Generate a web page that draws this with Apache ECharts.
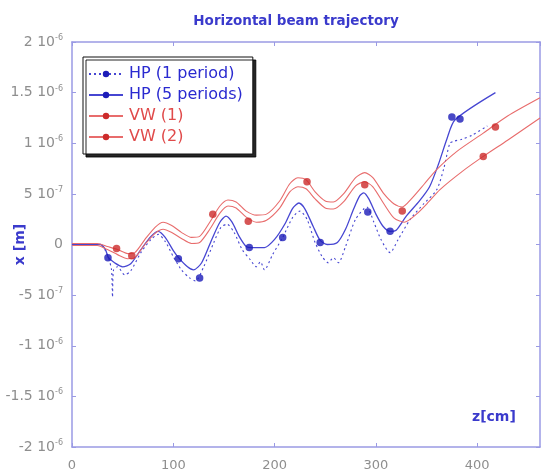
<!DOCTYPE html>
<html>
<head>
<meta charset="utf-8">
<script src="https://cdn.jsdelivr.net/npm/echarts@6/dist/echarts.min.js"></script>
<style>
  html, body { margin: 0; padding: 0; background: #fff; }
  #chart { width: 542px; height: 476px; }
</style>
</head>
<body>
<div id="chart"></div>
<script>
// Horizontal position x (in units of 1e-6 m) versus longitudinal position z (cm)

// HP, 1 period (dotted)
const zHP1 = [0, 28, 33, 36, 39, 40, 41, 45, 52, 58, 68, 78, 85, 92, 100, 108, 116, 122, 130, 140, 147, 153, 160, 168, 176, 182, 186, 190, 198, 208, 218, 225, 232, 240, 247, 253, 258, 263, 270, 280, 291, 298, 305, 314, 322, 334, 347, 360, 367, 373, 377, 385, 395, 410];
const xHP1 = [0, 0, -0.06, -0.13, -0.25, -0.52, -0.25, -0.22, -0.3, -0.26, -0.08, 0.05, 0.1, 0.03, -0.12, -0.25, -0.33, -0.36, -0.22, 0.02, 0.17, 0.2, 0.12, -0.05, -0.15, -0.22, -0.17, -0.25, -0.1, 0.07, 0.27, 0.33, 0.25, 0.02, -0.12, -0.18, -0.13, -0.18, -0.02, 0.25, 0.37, 0.22, 0.05, -0.08, 0.05, 0.25, 0.4, 0.54, 0.75, 1.0, 1.02, 1.04, 1.08, 1.17];
const zHP1Marks = [35.5, 126, 208, 292, 383];
const xHP1Marks = [-0.13, -0.33, 0.07, 0.32, 1.24];

// HP, 5 periods (solid)
const zHP5 = [0, 28, 33, 36, 42, 50, 58, 68, 78, 85, 92, 100, 106, 114, 120, 128, 138, 146, 152, 158, 165, 172, 178, 190, 200, 210, 218, 224, 230, 238, 245, 252, 262, 270, 278, 284, 288, 293, 300, 307, 314, 320, 330, 343, 353, 362, 370, 378, 418];
const xHP5 = [0, 0, -0.05, -0.13, -0.18, -0.22, -0.19, -0.05, 0.08, 0.13, 0.07, -0.06, -0.14, -0.22, -0.25, -0.18, 0.05, 0.22, 0.28, 0.22, 0.08, -0.02, -0.03, -0.03, 0.05, 0.2, 0.36, 0.41, 0.35, 0.18, 0.04, 0.0, 0.02, 0.15, 0.35, 0.48, 0.51, 0.45, 0.3, 0.18, 0.13, 0.14, 0.28, 0.43, 0.57, 0.8, 1.04, 1.23, 1.5];
const zHP5Marks = [105, 175, 245, 314, 375];
const xHP5Marks = [-0.14, -0.03, 0.02, 0.13, 1.26];

// VW (1)
const zVW1 = [0, 25, 35, 45, 55, 62, 72, 82, 90, 98, 108, 118, 126, 136, 146, 154, 162, 172, 182, 192, 205, 215, 223, 231, 240, 250, 258, 268, 280, 289, 297, 308, 318, 326, 335, 348, 360, 380, 406, 430, 462];
const xVW1 = [0.01, 0.01, -0.02, -0.05, -0.09, -0.08, 0.05, 0.17, 0.22, 0.19, 0.12, 0.07, 0.08, 0.22, 0.38, 0.44, 0.42, 0.33, 0.29, 0.3, 0.43, 0.6, 0.66, 0.64, 0.52, 0.43, 0.42, 0.5, 0.66, 0.71, 0.66, 0.5, 0.4, 0.37, 0.45, 0.6, 0.74, 0.92, 1.1, 1.27, 1.45];
const zVW1Marks = [44, 139, 232, 326, 418];
const xVW1Marks = [-0.04, 0.3, 0.62, 0.33, 1.16];

// VW (2)
const zVW2 = [0, 25, 35, 45, 55, 62, 72, 82, 90, 98, 108, 118, 126, 136, 146, 154, 162, 172, 182, 192, 205, 215, 223, 231, 240, 250, 258, 268, 280, 289, 297, 308, 318, 328, 340, 352, 363, 385, 406, 430, 462];
const xVW2 = [-0.01, -0.01, -0.05, -0.1, -0.14, -0.13, 0.0, 0.11, 0.15, 0.12, 0.06, 0.01, 0.02, 0.15, 0.31, 0.38, 0.36, 0.27, 0.22, 0.24, 0.36, 0.52, 0.57, 0.55, 0.45, 0.36, 0.35, 0.42, 0.58, 0.62, 0.57, 0.4, 0.26, 0.22, 0.3, 0.42, 0.54, 0.72, 0.87, 1.03, 1.25];
const zVW2Marks = [59, 174, 289, 406];
const xVW2Marks = [-0.11, 0.23, 0.59, 0.87];

// Axis tick labels (mantissa and power of ten)
const yTickMantissa = ['-2', '-1.5', '-1', '-5', '0', '5', '1', '1.5', '2'];
const yTickExponent = ['-6', '-6', '-6', '-7', '', '-7', '-6', '-6', '-6'];
const xTicks = [0, 100, 200, 300, 400];

const seriesNames = ['HP (1 period)', 'HP (5 periods)', 'VW (1)', 'VW (2)'];

const BLUE_LINE = '#4646d2';
const BLUE_MARK = '#1c1cb8';
const RED_LINE = '#e86c6c';
const RED_MARK = '#cc2b2b';
const FRAME = '#9a9ae4';
const FONT = '"DejaVu Sans"';

function pairs(zs, xs) { return zs.map((z, i) => [z, xs[i]]); }

function lineSeries(name, zs, xs, color, markColor, type, width) {
  return {
    name, type: 'line', data: pairs(zs, xs),
    showSymbol: false, symbol: 'circle', symbolSize: 6,
    smooth: 0.25, z: 2,
    lineStyle: { color, width, type },
    itemStyle: { color: markColor },
    emphasis: { disabled: true },
    animation: false
  };
}
function markSeries(name, zs, xs, color) {
  return {
    name, type: 'scatter', data: pairs(zs, xs),
    symbol: 'circle', symbolSize: 7.5, z: 3,
    itemStyle: { color },
    emphasis: { disabled: true },
    animation: false
  };
}

const chart = echarts.init(document.getElementById('chart'), null, { renderer: 'canvas' });

const axisCommon = {
  axisLine: { show: true, onZero: false, lineStyle: { color: FRAME, width: 1.5 } },
  axisTick: { show: true, inside: true, length: 4, lineStyle: { color: FRAME, width: 1 } },
  splitLine: { show: false }
};

chart.setOption({
  backgroundColor: '#ffffff',
  animation: false,
  title: {
    text: 'Horizontal beam trajectory',
    left: 291, top: 9, textAlign: 'center',
    textStyle: { color: '#3a3acc', fontSize: 13.5, fontWeight: 'bold', fontFamily: FONT }
  },
  grid: { left: 72, right: 2, top: 42, bottom: 29, containLabel: false, outerBoundsMode: 'none' },
  legend: {
    left: 83, top: 57, orient: 'vertical',
    padding: [9, 10, 9, 5],
    itemGap: 5, itemWidth: 34, itemHeight: 8,
    backgroundColor: '#ffffff',
    borderColor: '#111111', borderWidth: 1,
    shadowColor: 'rgba(0,0,0,0.85)', shadowBlur: 0, shadowOffsetX: 3, shadowOffsetY: 3,
    selectedMode: false,
    textStyle: { fontSize: 16, lineHeight: 16, fontFamily: FONT, padding: [0, 0, 0, 1] },
    data: [
      { name: seriesNames[0], textStyle: { color: '#2a2ad0' } },
      { name: seriesNames[1], textStyle: { color: '#2a2ad0' } },
      { name: seriesNames[2], textStyle: { color: '#e04a4a' } },
      { name: seriesNames[3], textStyle: { color: '#e04a4a' } }
    ]
  },
  xAxis: [
    Object.assign({
      type: 'value', min: 0, max: 462, interval: 100, position: 'bottom',
      axisLabel: {
        color: '#8e8e8e', fontSize: 13, fontFamily: FONT, margin: 12,
        showMaxLabel: false,
        formatter: v => (xTicks.indexOf(v) >= 0 ? String(v) : '')
      }
    }, axisCommon),
    Object.assign({
      type: 'value', min: 0, max: 462, interval: 100, position: 'top',
      axisLabel: { show: false }
    }, axisCommon)
  ],
  yAxis: [
    Object.assign({
      type: 'value', min: -2, max: 2, interval: 0.5, position: 'left',
      name: 'x [m]', nameLocation: 'middle', nameGap: 45, nameMoveOverlap: false,
      nameTextStyle: { color: '#3a3acc', fontSize: 14, fontWeight: 'bold', fontFamily: FONT },
      axisLabel: {
        color: '#8e8e8e', fontSize: 14, fontFamily: FONT, margin: 9,
        formatter: v => {
          const i = Math.round((v + 2) / 0.5);
          if (yTickExponent[i] === '') return yTickMantissa[i];
          return yTickMantissa[i] + ' 10{e|' + yTickExponent[i] + '}';
        },
        rich: { e: { fontSize: 8, fontFamily: FONT, verticalAlign: 'top', padding: [0, 0, 8, 0], color: '#8e8e8e' } }
      }
    }, axisCommon),
    Object.assign({
      type: 'value', min: -2, max: 2, interval: 0.5, position: 'right',
      axisLabel: { show: false }
    }, axisCommon)
  ],
  graphic: [{
    type: 'text', left: 472, top: 410,
    style: { text: 'z[cm]', fill: '#3a3acc', font: 'bold 14px "DejaVu Sans"' }
  }],
  series: [
    lineSeries(seriesNames[0], zHP1, xHP1, BLUE_LINE, BLUE_MARK, [2, 3], 1.1),
    lineSeries(seriesNames[1], zHP5, xHP5, BLUE_LINE, BLUE_MARK, 'solid', 1.3),
    lineSeries(seriesNames[2], zVW1, xVW1, RED_LINE, RED_MARK, 'solid', 1.1),
    lineSeries(seriesNames[3], zVW2, xVW2, RED_LINE, RED_MARK, 'solid', 1.1),
    markSeries(seriesNames[0], zHP1Marks, xHP1Marks, BLUE_MARK),
    markSeries(seriesNames[1], zHP5Marks, xHP5Marks, BLUE_MARK),
    markSeries(seriesNames[2], zVW1Marks, xVW1Marks, RED_MARK),
    markSeries(seriesNames[3], zVW2Marks, xVW2Marks, RED_MARK)
  ]
});
</script>
</body>
</html>
